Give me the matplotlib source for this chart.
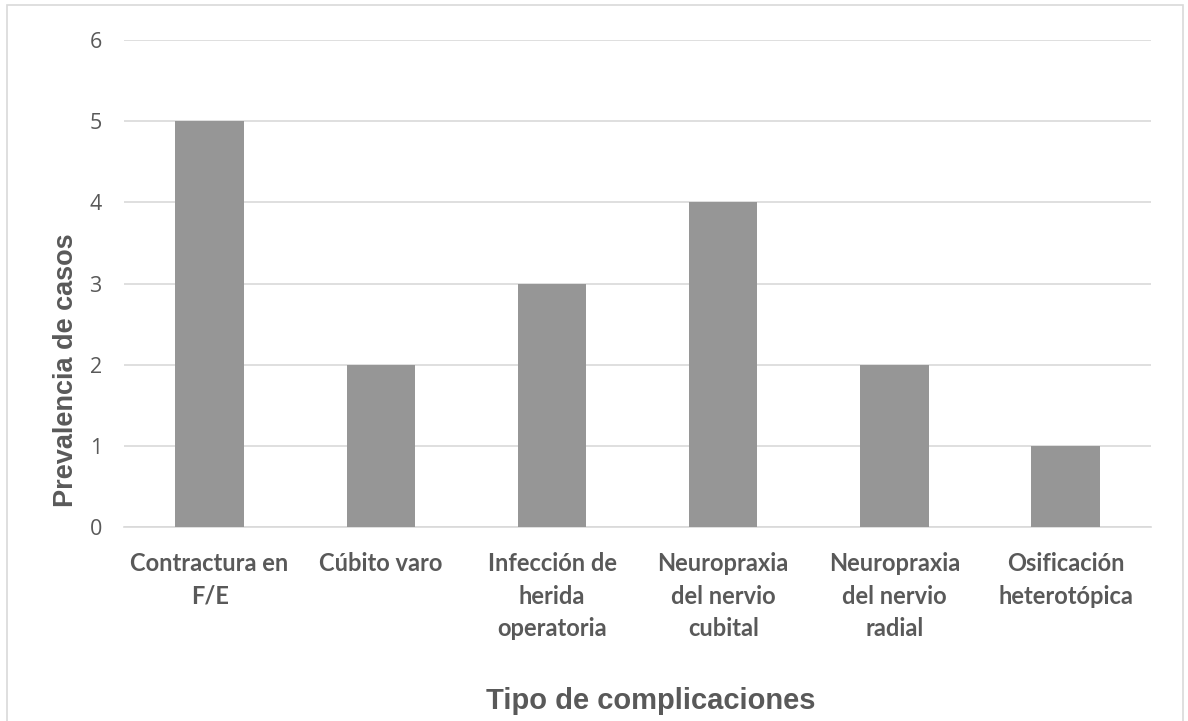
import matplotlib.pyplot as plt
from matplotlib.patches import Rectangle

categorias = ["Contractura en\nF/E", "Cúbito varo", "Infección de\nherida\noperatoria",
              "Neuropraxia\ndel nervio\ncubital", "Neuropraxia\ndel nervio\nradial",
              "Osificación\nheterotópica"]
casos = [5, 2, 3, 4, 2, 1]
yticks = [0, 1, 2, 3, 4, 5, 6]

gris_texto = "#595959"
gris_linea = "#d9d9d9"

fig = plt.figure(figsize=(11.88, 7.21), dpi=100)
ax = fig.add_axes([0.1044, 0.269, 0.8646, 0.6755])

x = range(len(categorias))
ax.bar(x, casos, width=0.4, color="#969696", zorder=3)

ax.set_xlim(-0.5, len(categorias) - 0.5)
ax.set_ylim(0, 6)
ax.set_yticks(yticks)
ax.grid(axis="y", color=gris_linea, linewidth=1.2, zorder=0)

for s in ["top", "right", "left"]:
    ax.spines[s].set_visible(False)
ax.spines["bottom"].set_color(gris_linea)
ax.spines["bottom"].set_linewidth(1.2)
ax.tick_params(length=0)

ax.set_yticklabels([str(v) for v in yticks], fontsize=15.5, color=gris_texto,
                   family="Open Sans")
ax.tick_params(axis="y", pad=16)
ax.set_xticks(list(x))
ax.set_xticklabels(categorias, fontsize=17, fontweight="bold", color=gris_texto,
                   family="Lato", linespacing=1.5, va="top")
ax.tick_params(axis="x", pad=18)

fig.text(66 / 1188, 1 - 370 / 721, "Prevalencia de casos", rotation=90,
         fontsize=19.5, fontweight="bold", color=gris_texto,
         family="Liberation Sans", ha="center", va="center")
fig.text(651 / 1188, 1 - 701 / 721, "Tipo de complicaciones", fontsize=21,
         fontweight="bold", color=gris_texto, family="Liberation Sans",
         ha="center", va="center")

# marco exterior del gráfico
marco = Rectangle((7 / 1188, -0.05), 1176 / 1188, 1 - 5 / 721 + 0.05,
                  transform=fig.transFigure, fill=False, edgecolor=gris_linea,
                  linewidth=1.2, clip_on=False)
fig.patches.append(marco)

fig.savefig("out.png", dpi=100)
